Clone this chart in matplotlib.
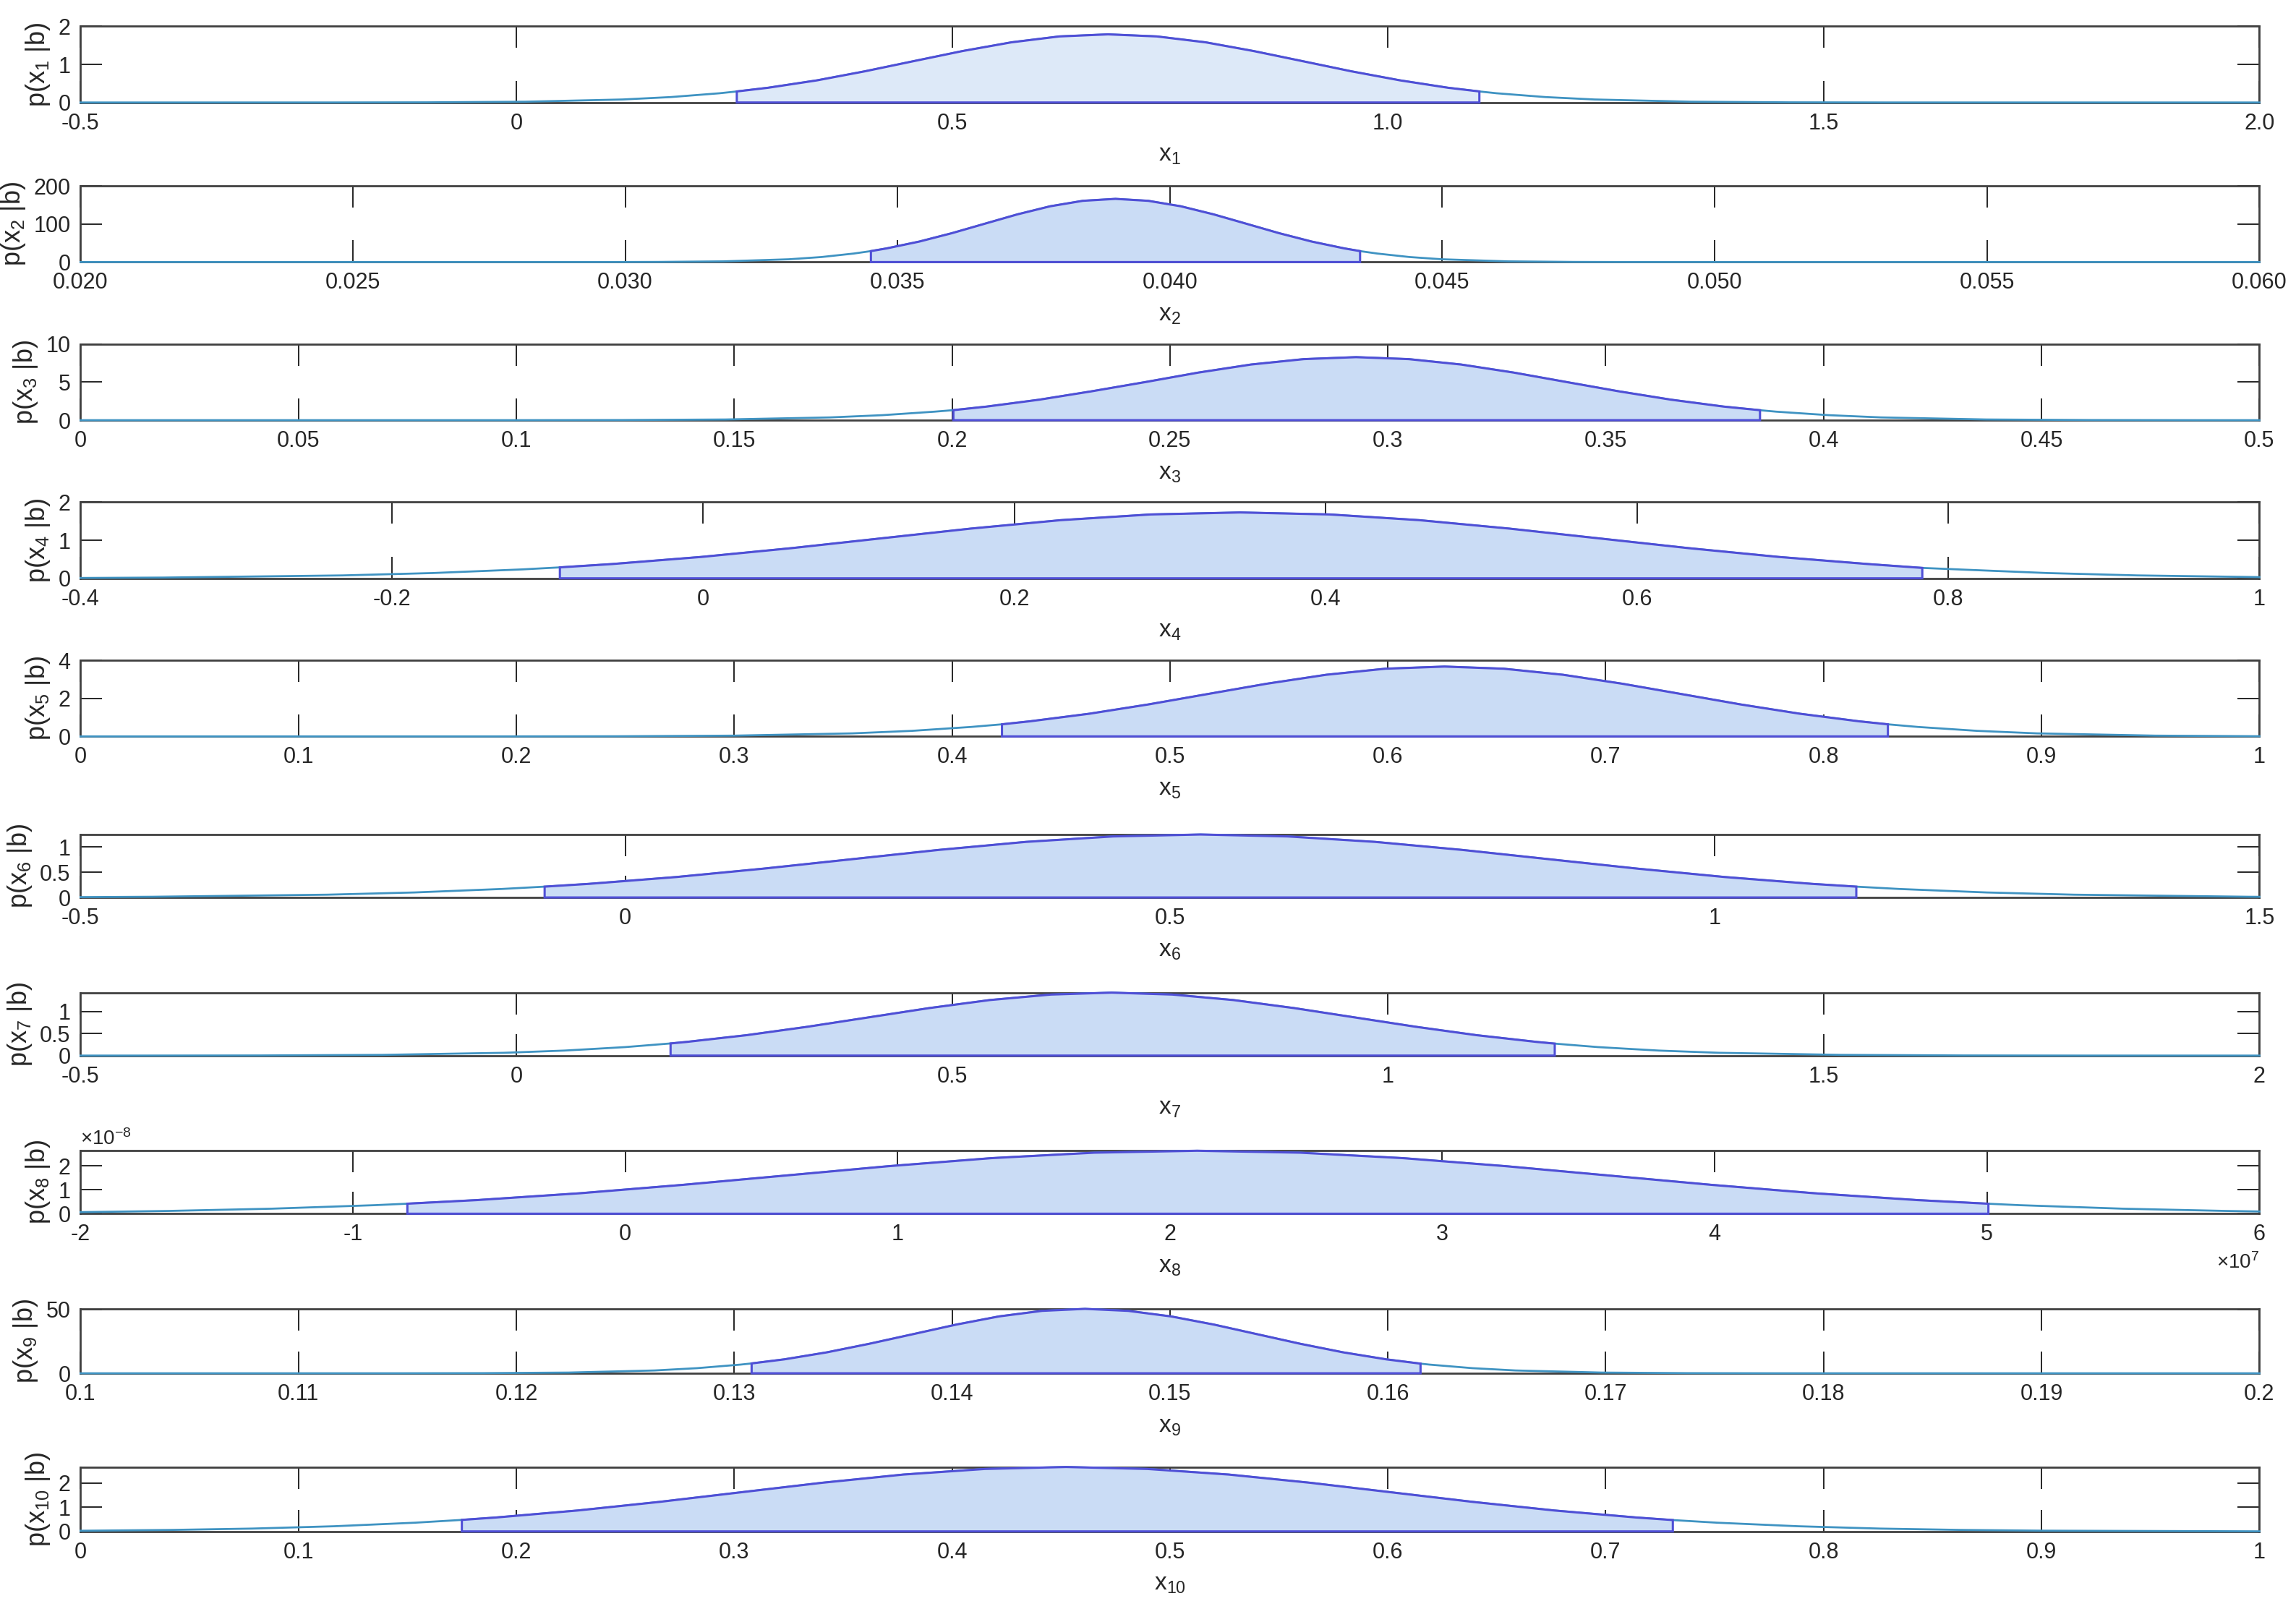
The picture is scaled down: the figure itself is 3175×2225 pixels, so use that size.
import numpy as np
import matplotlib
matplotlib.use('Agg')
import matplotlib.pyplot as plt

plt.rcParams['font.family'] = ['Liberation Sans Narrow', 'Liberation Sans', 'DejaVu Sans']
plt.rcParams['mathtext.default'] = 'regular'
plt.rcParams['axes.unicode_minus'] = False

# posterior density (x, p(x|b)), interval ends included
X1 = [-0.5, -0.213, -0.102, 0.010, 0.122, 0.177, 0.233, 0.253, 0.289, 0.345, 0.400, 0.456, 0.512, 0.568,
      0.623, 0.679, 0.735, 0.791, 0.846, 0.902, 0.958, 1.014, 1.069, 1.105, 1.125, 1.181, 1.237, 1.348,
      1.460, 1.571, 2.0]
P1 = [0, 0.0005, 0.004, 0.020, 0.079, 0.142, 0.242, 0.29, 0.387, 0.581, 0.819, 1.086, 1.351, 1.580,
      1.735, 1.79, 1.735, 1.580, 1.351, 1.086, 0.819, 0.581, 0.387, 0.29, 0.242, 0.142, 0.079, 0.020,
      0.004, 0.0005, 0]

X2 = [0.020, 0.0294, 0.0306, 0.0318, 0.0330, 0.0336, 0.0342, 0.03451, 0.0348, 0.0354, 0.0360, 0.0366,
      0.0372, 0.0378, 0.0384, 0.0390, 0.0396, 0.0402, 0.0408, 0.0414, 0.0420, 0.0426, 0.0432, 0.04349,
      0.0438, 0.0444, 0.0450, 0.0462, 0.0474, 0.0486, 0.060]
P2 = [0, 0.05, 0.37, 1.84, 7.29, 13.2, 22.5, 28.8, 35.9, 53.9, 76.0, 100.7, 125.3, 146.5, 160.9, 166,
      160.9, 146.5, 125.3, 100.7, 76.0, 53.9, 35.9, 28.8, 22.5, 13.2, 7.29, 1.84, 0.37, 0.05, 0]

X3 = [0.0, 0.0999, 0.124, 0.148, 0.172, 0.184, 0.196, 0.2003, 0.208, 0.220, 0.232, 0.2445, 0.2565,
      0.2686, 0.2807, 0.2927, 0.3048, 0.3168, 0.3289, 0.3409, 0.353, 0.365, 0.377, 0.3854, 0.3891,
      0.4012, 0.4132, 0.4373, 0.4614, 0.4855, 0.5]
P3 = [0, 0.002, 0.018, 0.092, 0.364, 0.659, 1.12, 1.32, 1.79, 2.69, 3.79, 5.02, 6.25, 7.31, 8.02, 8.28,
      8.02, 7.31, 6.25, 5.02, 3.79, 2.69, 1.79, 1.31, 1.12, 0.659, 0.364, 0.092, 0.018, 0.002, 0]

X4 = [-0.4, -0.347, -0.2315, -0.1739, -0.1162, -0.092, -0.0586, -0.0009, 0.0568, 0.1144, 0.1721, 0.2297,
      0.2874, 0.345, 0.4027, 0.4603, 0.518, 0.5756, 0.6333, 0.6909, 0.7486, 0.7834, 0.8062, 0.8639,
      0.9215, 1.0]
P4 = [0.009, 0.019, 0.076, 0.138, 0.234, 0.287, 0.374, 0.562, 0.792, 1.049, 1.306, 1.527, 1.677, 1.73,
      1.677, 1.527, 1.306, 1.049, 0.792, 0.562, 0.374, 0.273, 0.234, 0.138, 0.076, 0.031]

X5 = [0.0, 0.1912, 0.2456, 0.2999, 0.3543, 0.3814, 0.4086, 0.4229, 0.4358, 0.4630, 0.4901, 0.5173,
      0.5445, 0.5717, 0.5988, 0.626, 0.6532, 0.6804, 0.7075, 0.7347, 0.7619, 0.7891, 0.8162, 0.8295,
      0.8434, 0.8706, 0.8978, 0.9521, 1.0]
P5 = [0, 0.001, 0.008, 0.041, 0.161, 0.292, 0.497, 0.636, 0.794, 1.192, 1.680, 2.226, 2.770, 3.239,
      3.557, 3.67, 3.557, 3.239, 2.770, 2.226, 1.680, 1.192, 0.794, 0.636, 0.497, 0.292, 0.161, 0.041, 0.01]

X6 = [-0.5, -0.434, -0.2738, -0.1936, -0.1134, -0.074, -0.0332, 0.0470, 0.1271, 0.2073, 0.2875, 0.3677,
      0.4478, 0.528, 0.6082, 0.6884, 0.7685, 0.8487, 0.9289, 1.0091, 1.0892, 1.130, 1.1694, 1.2496,
      1.3298, 1.4901, 1.5]
P6 = [0.007, 0.014, 0.055, 0.099, 0.168, 0.214, 0.269, 0.404, 0.570, 0.754, 0.939, 1.098, 1.206, 1.244,
      1.206, 1.098, 0.939, 0.754, 0.570, 0.404, 0.269, 0.214, 0.168, 0.099, 0.055, 0.014, 0.013]

X7 = [-0.5, -0.433, -0.2935, -0.154, -0.0145, 0.0553, 0.125, 0.177, 0.1948, 0.2645, 0.3343, 0.404,
      0.4738, 0.5435, 0.6133, 0.683, 0.7528, 0.8225, 0.8923, 0.962, 1.0318, 1.1015, 1.1713, 1.1915,
      1.241, 1.3108, 1.3805, 1.52, 1.6595, 1.799, 2.0]
P7 = [0, 0.0004, 0.003, 0.016, 0.063, 0.114, 0.193, 0.276, 0.309, 0.464, 0.655, 0.867, 1.079, 1.262,
      1.386, 1.43, 1.386, 1.262, 1.079, 0.867, 0.655, 0.464, 0.309, 0.272, 0.193, 0.114, 0.063, 0.016,
      0.003, 0.0004, 0]

# x8 in units of 1e7, density in units of 1e-8
X8 = [-2.0, -1.678, -1.300, -0.922, -0.80, -0.544, -0.1665, 0.211, 0.589, 0.967, 1.3445, 1.722, 2.10,
      2.478, 2.8555, 3.233, 3.611, 3.989, 4.3665, 4.744, 5.005, 5.122, 5.500, 5.8775, 6.0]
P8 = [0.066, 0.116, 0.210, 0.357, 0.420, 0.571, 0.857, 1.209, 1.601, 1.993, 2.330, 2.559, 2.64, 2.559,
      2.330, 1.993, 1.601, 1.209, 0.857, 0.571, 0.418, 0.357, 0.210, 0.116, 0.094]

X9 = [0.1, 0.1145, 0.11845, 0.1224, 0.12635, 0.1283, 0.1303, 0.1308, 0.1323, 0.13425, 0.1362, 0.1382,
      0.14018, 0.14215, 0.14413, 0.1461, 0.14808, 0.15005, 0.15203, 0.154, 0.15598, 0.15795, 0.15993,
      0.1615, 0.1619, 0.16388, 0.16585, 0.1698, 0.17375, 0.1777, 0.2]
P9 = [0, 0.015, 0.111, 0.561, 2.22, 4.02, 6.83, 7.73, 10.92, 16.40, 23.12, 30.63, 38.12, 44.57, 48.94,
      50.5, 48.94, 44.57, 38.12, 30.63, 23.12, 16.40, 10.92, 7.56, 6.83, 4.02, 2.22, 0.561, 0.111, 0.015, 0]

X10 = [0.0, 0.0415, 0.0788, 0.1162, 0.1535, 0.175, 0.1909, 0.2282, 0.2656, 0.3029, 0.3403, 0.3776, 0.415,
       0.4523, 0.4897, 0.527, 0.5644, 0.6017, 0.6391, 0.6764, 0.7138, 0.7308, 0.7511, 0.7885, 0.8258,
       0.8632, 0.9005, 1.0]
P10 = [0.027, 0.061, 0.117, 0.213, 0.361, 0.477, 0.578, 0.867, 1.222, 1.619, 2.015, 2.356, 2.588, 2.67,
       2.588, 2.356, 2.015, 1.619, 1.222, 0.867, 0.578, 0.470, 0.361, 0.213, 0.117, 0.061, 0.030, 0.003]

# credible interval ends
INT_LO = [0.253, 0.03451, 0.2003, -0.092, 0.4229, -0.074, 0.177, -0.80, 0.1308, 0.175]
INT_HI = [1.105, 0.04349, 0.3854, 0.7834, 0.8295, 1.130, 1.1915, 5.005, 0.1615, 0.7308]

Y_TOP = [2, 200, 10, 2, 4, 1.244, 1.43, 2.64, 50.5, 2.67]

XTICKS = [
    ['-0.5', '0', '0.5', '1.0', '1.5', '2.0'],
    ['0.020', '0.025', '0.030', '0.035', '0.040', '0.045', '0.050', '0.055', '0.060'],
    ['0', '0.05', '0.1', '0.15', '0.2', '0.25', '0.3', '0.35', '0.4', '0.45', '0.5'],
    ['-0.4', '-0.2', '0', '0.2', '0.4', '0.6', '0.8', '1'],
    ['0', '0.1', '0.2', '0.3', '0.4', '0.5', '0.6', '0.7', '0.8', '0.9', '1'],
    ['-0.5', '0', '0.5', '1', '1.5'],
    ['-0.5', '0', '0.5', '1', '1.5', '2'],
    ['-2', '-1', '0', '1', '2', '3', '4', '5', '6'],
    ['0.1', '0.11', '0.12', '0.13', '0.14', '0.15', '0.16', '0.17', '0.18', '0.19', '0.2'],
    ['0', '0.1', '0.2', '0.3', '0.4', '0.5', '0.6', '0.7', '0.8', '0.9', '1'],
]
YTICKS = [
    ['0', '1', '2'], ['0', '100', '200'], ['0', '5', '10'], ['0', '1', '2'], ['0', '2', '4'],
    ['0', '0.5', '1'], ['0', '0.5', '1'], ['0', '1', '2'], ['0', '50'], ['0', '1', '2'],
]

xs = [X1, X2, X3, X4, X5, X6, X7, X8, X9, X10]
ps = [P1, P2, P3, P4, P5, P6, P7, P8, P9, P10]

# layout, in pixels of a 1568x1099 frame
W, H = 1568.0, 1099.0
left, right = 55, 1543
tops = [18, 127, 235, 343, 451, 570, 678, 786, 894, 1002]
bots = [70, 179, 287, 395, 503, 613, 721, 829, 938, 1046]

fig = plt.figure(figsize=(15.875, 11.125), dpi=200)
txt = '#262626'

for i in range(10):
    ax = fig.add_axes([left / W, 1 - bots[i] / H, (right - left) / W, (bots[i] - tops[i]) / H])
    x = np.array(xs[i])
    y = np.array(ps[i])
    lo, hi = INT_LO[i], INT_HI[i]

    ax.plot(x, y, color='#3f93c2', lw=1.0, zorder=3, clip_on=False)

    m = (x >= lo) & (x <= hi)
    fx = np.concatenate([[lo], x[m], [hi]])
    fy = np.concatenate([[0], y[m], [0]])
    face = '#dde9f8' if i == 0 else '#cadcf5'
    ax.fill(fx, fy, facecolor=face, edgecolor='#4f4fd6', lw=1.1, zorder=4, clip_on=False)

    xt = [float(t) for t in XTICKS[i]]
    yt = [float(t) for t in YTICKS[i]]
    ax.set_xlim(xt[0], xt[-1])
    ax.set_ylim(0, Y_TOP[i])
    ax.set_xticks(xt)
    ax.set_yticks(yt)
    ax.set_xticklabels(XTICKS[i])
    ax.set_yticklabels(YTICKS[i])
    if i == 7:
        # scale factors of panel 8 (x in 1e7, density in 1e-8)
        ax.text(0.0, 1.03, r'$\times10^{-8}$', transform=ax.transAxes, fontsize=10,
                color=txt, ha='left', va='bottom')
        ax.text(1.0, -0.62, r'$\times10^{7}$', transform=ax.transAxes, fontsize=10,
                color=txt, ha='right', va='top')

    ax.tick_params(axis='both', direction='in', length=10.8, width=0.7, top=True, right=True,
                   pad=5, labelsize=11, colors=txt)
    for s in ax.spines.values():
        s.set_linewidth(1.0)
        s.set_color('#404040')

    ax.set_xlabel(r'$x_{%d}$' % (i + 1), fontsize=12, labelpad=5, color=txt)
    ax.set_ylabel(r'p($x_{%d}$ |b)' % (i + 1), fontsize=13, color=txt,
                  family=['Liberation Sans', 'DejaVu Sans'], labelpad=3)

fig.savefig('out.png', dpi=200)
